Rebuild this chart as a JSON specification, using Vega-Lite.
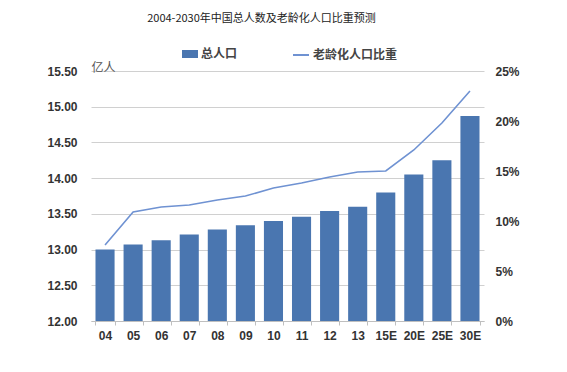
{
  "$schema": "https://vega.github.io/schema/vega-lite/v6.json",
  "autosize": {"type": "none"},
  "width": 393,
  "height": 250,
  "padding": {"left": 91, "top": 71, "right": 83, "bottom": 51},
  "background": "white",
  "title": {
    "text": "2004-2030年中国总人数及老龄化人口比重预测",
    "font": "Noto Sans CJK SC",
    "fontSize": 11,
    "fontWeight": "normal",
    "color": "#222",
    "anchor": "middle",
    "frame": "group",
    "dx": -26,
    "offset": 22
  },
  "config": {
    "view": {"stroke": null},
    "font": "Liberation Sans",
    "axis": {
      "labelFont": "Liberation Sans",
      "labelFontSize": 12,
      "labelFontWeight": "bold",
      "labelColor": "#333"
    },
    "legend": {
      "labelFont": "Noto Sans CJK SC",
      "labelFontSize": 12,
      "labelFontWeight": "bold",
      "labelColor": "#444",
      "padding": 0,
      "labelOffset": 3
    }
  },
  "data": {
    "values": [
      {"year": "04", "pop": 13.00, "ratio": 0.076},
      {"year": "05", "pop": 13.07, "ratio": 0.109},
      {"year": "06", "pop": 13.13, "ratio": 0.114},
      {"year": "07", "pop": 13.21, "ratio": 0.116},
      {"year": "08", "pop": 13.28, "ratio": 0.121},
      {"year": "09", "pop": 13.34, "ratio": 0.125},
      {"year": "10", "pop": 13.40, "ratio": 0.133},
      {"year": "11", "pop": 13.46, "ratio": 0.138},
      {"year": "12", "pop": 13.54, "ratio": 0.144},
      {"year": "13", "pop": 13.60, "ratio": 0.149},
      {"year": "15E", "pop": 13.80, "ratio": 0.150},
      {"year": "20E", "pop": 14.05, "ratio": 0.171},
      {"year": "25E", "pop": 14.25, "ratio": 0.198},
      {"year": "30E", "pop": 14.87, "ratio": 0.230}
    ]
  },
  "encoding": {
    "x": {
      "field": "year",
      "type": "ordinal",
      "sort": null,
      "scale": {"paddingInner": 0.32, "paddingOuter": 0.16},
      "axis": {
        "title": null,
        "labelAngle": 0,
        "domainColor": "#bfbfbf",
        "tickColor": "#bfbfbf",
        "tickSize": 4,
        "tickBand": "extent",
        "labelPadding": 5,
        "grid": false
      }
    }
  },
  "layer": [
    {
      "mark": {"type": "bar", "clip": true},
      "encoding": {
        "y": {
          "field": "pop",
          "type": "quantitative",
          "scale": {"domain": [12, 15.5], "zero": false, "nice": false},
          "axis": {
            "title": "亿人",
            "titleFont": "Noto Sans CJK SC",
            "titleFontSize": 12,
            "titleFontWeight": "normal",
            "titleColor": "#555",
            "titleAngle": 0,
            "titleAlign": "left",
            "titleBaseline": "middle",
            "titleX": 0,
            "titleY": -4,
            "values": [12, 12.5, 13, 13.5, 14, 14.5, 15, 15.5],
            "format": ".2f",
            "domain": false,
            "ticks": false,
            "tickSize": 0,
            "labelPadding": 14,
            "grid": true,
            "gridColor": "#d0d0d0",
            "gridWidth": 1
          }
        },
        "fill": {
          "datum": "总人口",
          "type": "nominal",
          "scale": {"range": ["#4a76b0"]},
          "legend": {
            "title": null,
            "orient": "none",
            "legendX": 91,
            "legendY": -25,
            "symbolType": "M-1,-0.5H1V0.5H-1Z",
            "symbolSize": 256,
            "symbolStrokeWidth": 0
          }
        }
      }
    },
    {
      "mark": {"type": "line", "strokeWidth": 1.6},
      "encoding": {
        "y": {
          "field": "ratio",
          "type": "quantitative",
          "scale": {"domain": [0, 0.25], "nice": false},
          "axis": {
            "title": null,
            "orient": "right",
            "values": [0, 0.05, 0.1, 0.15, 0.2, 0.25],
            "format": ".0%",
            "domain": false,
            "ticks": false,
            "tickSize": 0,
            "labelPadding": 11,
            "grid": false
          }
        },
        "stroke": {
          "datum": "老龄化人口比重",
          "type": "nominal",
          "scale": {"range": ["#6f92d2"]},
          "legend": {
            "title": null,
            "orient": "none",
            "legendX": 201,
            "legendY": -25,
            "symbolType": "stroke",
            "symbolSize": 256,
            "symbolStrokeWidth": 2
          }
        }
      }
    }
  ],
  "resolve": {"scale": {"y": "independent", "fill": "independent", "stroke": "independent"}}
}
